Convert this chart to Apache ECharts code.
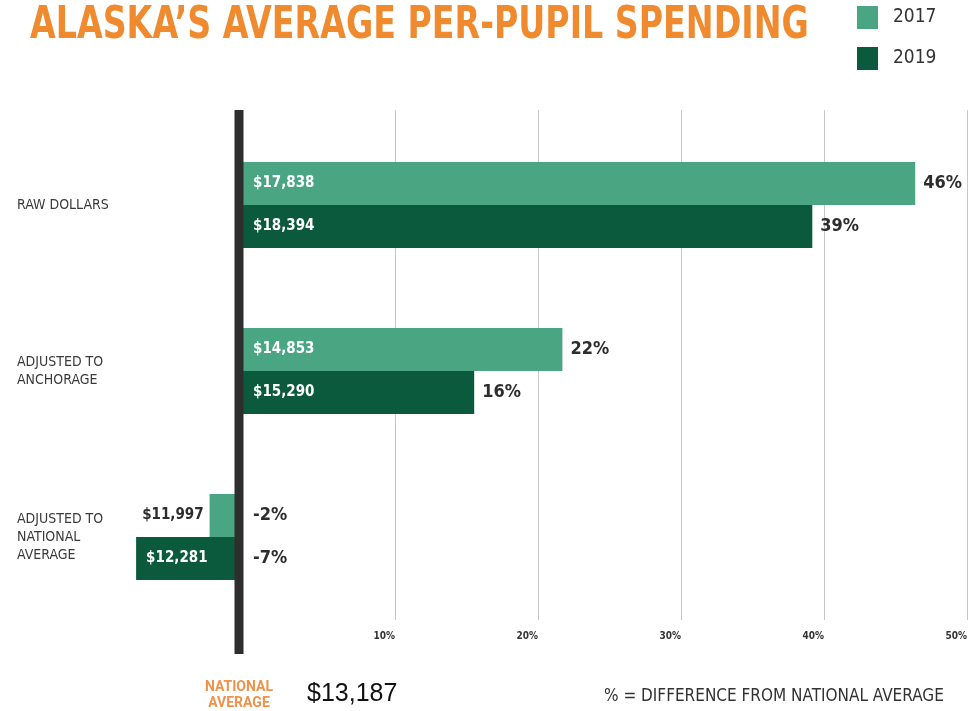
<!DOCTYPE html>
<html>
<head>
<meta charset="utf-8">
<title>Alaska's average per-pupil spending</title>
<script src="https://cdn.jsdelivr.net/npm/echarts@6/dist/echarts.min.js"></script>
<style>
  html, body { margin: 0; padding: 0; background: #fff; }
  #chart { width: 974px; height: 711px; }
</style>
</head>
<body>
<div id="chart"></div>
<script>
const categories = ["RAW DOLLARS", "ADJUSTED TO\nANCHORAGE", "ADJUSTED TO\nNATIONAL\nAVERAGE"];
const years = ["2017", "2019"];
const pct2017 = [46, 22, -2];      // % difference from national average
const pct2019 = [39, 16, -7];
const dollars2017 = [17838, 14853, 11997];
const dollars2019 = [18394, 15290, 12281];
const nationalAverage = 13187;

const NARROW = '"Liberation Sans Narrow", "DejaVu Sans Condensed", Roboto, sans-serif';
const light = "#4aa583";
const dark = "#0c5a3d";
const orange = "#f08a2e";

const money = (n) => "$" + n.toLocaleString("en-US");

// dollar label sits inside the bar unless the bar is too short
const dollarItems = (vals, dollars) => vals.map((v, i) => {
  const small = Math.abs(v) < 5;
  return {
    value: v,
    label: {
      show: true,
      position: small ? "left" : "insideLeft",
      distance: small ? 6 : (v < 0 ? 10 : 14),
      color: small ? "#2d2d2d" : "#fff",
      formatter: money(dollars[i])
    }
  };
});

const pctItems = (vals) => vals.map(v => ({
  value: v,
  label: { distance: v < 0 ? 14 : 8 }
}));

const pctLabel = {
  show: true,
  position: "right",
  formatter: "{c}%",
  fontFamily: NARROW,
  fontWeight: "bold",
  fontSize: 18,
  color: "#2d2d2d"
};

const chart = echarts.init(document.getElementById("chart"));

const option = {
  animation: false,
  legend: {
    data: years,
    orient: "vertical",
    left: 857,
    top: 6,
    padding: 0,
    icon: "rect",
    itemWidth: 21,
    itemHeight: 23,
    itemGap: 18,
    textStyle: { fontFamily: NARROW, fontSize: 19, color: "#333", padding: [0, 0, 0, 10] }
  },
  grid: [
    // bars
    { left: 92, right: 0, top: 122, bottom: 91, containLabel: false, outerBoundsMode: "none" },
    // gridlines and % ticks
    { left: 252, right: 7, top: 110, bottom: 91, containLabel: false, outerBoundsMode: "none" }
  ],
  xAxis: [
    {
      gridIndex: 0, type: "value", min: -10, max: 50,
      axisLine: { show: false }, axisTick: { show: false },
      axisLabel: { show: false }, splitLine: { show: false }
    },
    {
      gridIndex: 1, type: "value", min: 0, max: 50, interval: 10,
      axisLine: { show: false }, axisTick: { show: false },
      splitLine: {
        show: true,
        lineStyle: { color: ["rgba(0,0,0,0)", "#c9c9c9", "#c9c9c9", "#c9c9c9", "#c9c9c9", "#c9c9c9"], width: 1 }
      },
      axisLabel: {
        margin: 11, align: "right",
        fontFamily: NARROW, fontWeight: "bold", fontSize: 10, color: "#333",
        formatter: (v) => v > 0 ? v + "%" : ""
      }
    }
  ],
  yAxis: [
    {
      gridIndex: 0, type: "category", data: categories, inverse: true,
      axisLine: { show: false }, axisTick: { show: false },
      axisLabel: {
        align: "left", margin: 75, lineHeight: 18,
        fontFamily: NARROW, fontSize: 14, color: "#3a3a3a"
      }
    },
    {
      gridIndex: 0, type: "category", data: categories, inverse: true, show: false
    },
    {
      gridIndex: 1, type: "value", min: 0, max: 1, show: false
    }
  ],
  series: [
    {
      name: "2017", type: "bar", xAxisIndex: 0, yAxisIndex: 0,
      barWidth: 43, barGap: 0,
      itemStyle: { color: light },
      label: { fontFamily: NARROW, fontWeight: "bold", fontSize: 15 },
      data: dollarItems(pct2017, dollars2017)
    },
    {
      name: "2019", type: "bar", xAxisIndex: 0, yAxisIndex: 0,
      barWidth: 43, barGap: 0,
      itemStyle: { color: dark },
      label: { fontFamily: NARROW, fontWeight: "bold", fontSize: 15 },
      data: dollarItems(pct2019, dollars2019)
    },
    {
      name: "pct2017", type: "bar", xAxisIndex: 0, yAxisIndex: 1,
      barWidth: 43, barGap: 0, silent: true,
      itemStyle: { color: "rgba(0,0,0,0)" },
      label: pctLabel,
      data: pctItems(pct2017)
    },
    {
      name: "pct2019", type: "bar", xAxisIndex: 0, yAxisIndex: 1,
      barWidth: 43, barGap: 0, silent: true,
      itemStyle: { color: "rgba(0,0,0,0)" },
      label: pctLabel,
      data: pctItems(pct2019)
    }
  ]
};

chart.setOption(option);

// title, national-average (0%) bar and footer
const x0 = chart.convertToPixel({ xAxisIndex: 0 }, 0);
chart.setOption({
  graphic: [
    {
      type: "text", z: 100, x: 30, y: 27, scaleX: 0.84,
      style: {
        text: "ALASKA\u2019S AVERAGE PER-PUPIL SPENDING", verticalAlign: "middle",
        font: "bold 44px " + NARROW, fill: orange
      }
    },
    {
      type: "rect", z: 100,
      shape: { x: x0 - 4.5, y: 110, width: 9, height: 544 },
      style: { fill: "#2e2e2e" }
    },
    {
      type: "text", z: 100, x: x0, y: 695,
      style: {
        text: "NATIONAL\nAVERAGE", align: "center", verticalAlign: "middle",
        font: "bold 14px Roboto, sans-serif", lineHeight: 16, fill: "#f0924a"
      }
    },
    {
      type: "text", z: 100, x: 307, y: 694,
      style: {
        text: money(nationalAverage), verticalAlign: "middle",
        font: '25px "Liberation Sans", Arial, sans-serif', fill: "#111"
      }
    },
    {
      type: "text", z: 100, x: 604, y: 697,
      style: {
        text: "% = DIFFERENCE FROM NATIONAL AVERAGE", verticalAlign: "middle",
        font: "17px " + NARROW, fill: "#333"
      }
    }
  ]
});

window.addEventListener("resize", () => chart.resize());
</script>
</body>
</html>
